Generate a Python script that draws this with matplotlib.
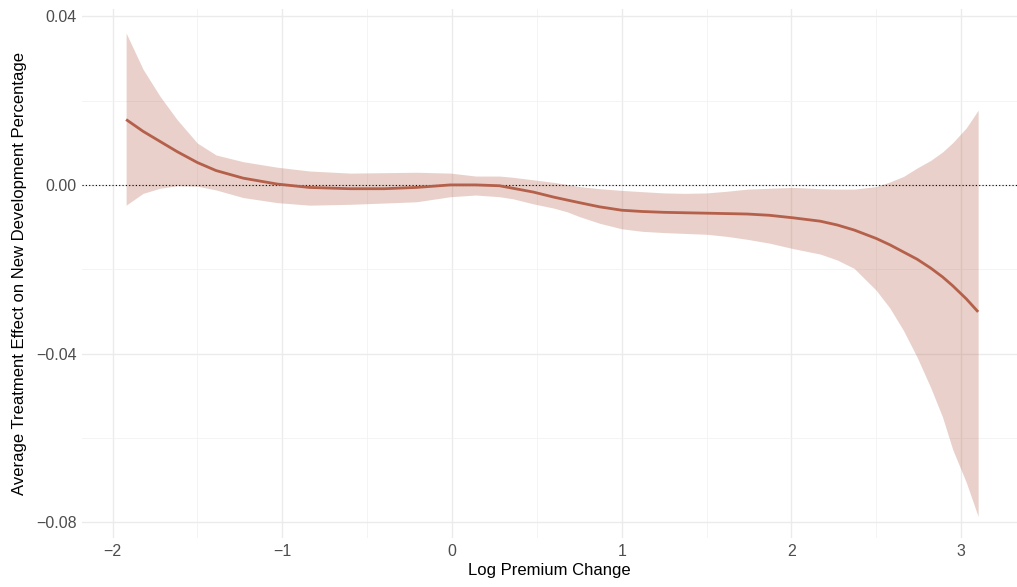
import matplotlib
matplotlib.use("Agg")
import matplotlib.pyplot as plt

plt.rcParams['font.family'] = ['Liberation Sans', 'DejaVu Sans']

# values
log_premium = [-1.92, -1.82, -1.72, -1.62, -1.50, -1.39, -1.23, -1.03, -0.84, -0.60, -0.40,
               -0.21, -0.01, 0.14, 0.28, 0.36, 0.48, 0.60, 0.68, 0.75, 0.87, 1.00, 1.12, 1.25,
               1.37, 1.50, 1.62, 1.74, 1.87, 2.01, 2.17, 2.27, 2.37, 2.50, 2.58, 2.66, 2.74,
               2.82, 2.89, 2.95, 3.03, 3.10]
ate = [0.0155, 0.0127, 0.0103, 0.0079, 0.0053, 0.0034, 0.0016, 0.0002, -0.0006, -0.0009, -0.0009,
       -0.0006, 0.0000, 0.0000, -0.0002, -0.0008, -0.0017, -0.0029, -0.0036, -0.0042, -0.0052,
       -0.0060, -0.0063, -0.0065, -0.0066, -0.0067, -0.0068, -0.0069, -0.0072, -0.0078, -0.0086,
       -0.0095, -0.0107, -0.0127, -0.0142, -0.0159, -0.0176, -0.0197, -0.0218, -0.0239, -0.0270,
       -0.0301]
ci_upper = [0.0360, 0.0274, 0.0210, 0.0155, 0.0099, 0.0071, 0.0055, 0.0042, 0.0033, 0.0028,
            0.0029, 0.0030, 0.0028, 0.0021, 0.0021, 0.0018, 0.0012, 0.0006, 0.0001, -0.0004,
            -0.0009, -0.0013, -0.0016, -0.0019, -0.0020, -0.0019, -0.0015, -0.0010, -0.0008,
            -0.0006, -0.0009, -0.0010, -0.0010, -0.0004, 0.0007, 0.0020, 0.0040, 0.0058, 0.0078,
            0.0100, 0.0135, 0.0177]
ci_lower = [-0.0048, -0.0020, -0.0008, -0.0002, -0.0003, -0.0012, -0.0030, -0.0042, -0.0048,
            -0.0046, -0.0043, -0.0040, -0.0028, -0.0024, -0.0028, -0.0033, -0.0045, -0.0055,
            -0.0064, -0.0075, -0.0091, -0.0104, -0.0110, -0.0113, -0.0115, -0.0117, -0.0122,
            -0.0129, -0.0138, -0.0151, -0.0164, -0.0178, -0.0198, -0.0250, -0.0292, -0.0345,
            -0.0408, -0.0480, -0.0550, -0.0627, -0.0705, -0.0786]

x_ticks = [-2, -1, 0, 1, 2, 3]
x_minor = [-1.5, -0.5, 0.5, 1.5, 2.5]
y_ticks = [0.04, 0.0, -0.04, -0.08]
y_minor = [0.02, -0.02, -0.06]
y_labels = ['0.04', '0.00', '\u22120.04', '\u22120.08']
x_labels = ['\u22122', '\u22121', '0', '1', '2', '3']

col = '#B4604A'

fig = plt.figure(figsize=(10.17, 5.87), dpi=100)
ax = fig.add_axes([82 / 1017, 49 / 587, 935 / 1017, 529 / 587])

# grid like ggplot theme_minimal
for v in x_ticks:
    ax.axvline(v, color='#ebebeb', lw=1.0, zorder=0)
for v in x_minor:
    ax.axvline(v, color='#f2f2f2', lw=0.6, zorder=0)
for v in y_ticks:
    ax.axhline(v, color='#ebebeb', lw=1.0, zorder=0)
for v in y_minor:
    ax.axhline(v, color='#f2f2f2', lw=0.6, zorder=0)

ax.fill_between(log_premium, ci_lower, ci_upper, color=col, alpha=0.29, lw=0, zorder=1)
ax.axhline(0, color='black', lw=0.8, ls=(0, (1, 2)), zorder=2)
ax.plot(log_premium, ate, color=col, lw=2.0, zorder=3, solid_capstyle='butt')

ax.set_xlim(-2.18, 3.329)
ax.set_ylim(-0.0837, 0.0417)
ax.set_xticks(x_ticks)
ax.set_xticklabels(x_labels)
ax.set_yticks(y_ticks)
ax.set_yticklabels(y_labels)
ax.tick_params(length=0, labelsize=11.5, labelcolor='#4d4d4d', pad=4)
for s in ax.spines.values():
    s.set_visible(False)

ax.set_xlabel('Log Premium Change', fontsize=12, labelpad=3)
ax.set_ylabel('Average Treatment Effect on New Development Percentage', fontsize=12, labelpad=6)

fig.savefig('out.png', dpi=100)
